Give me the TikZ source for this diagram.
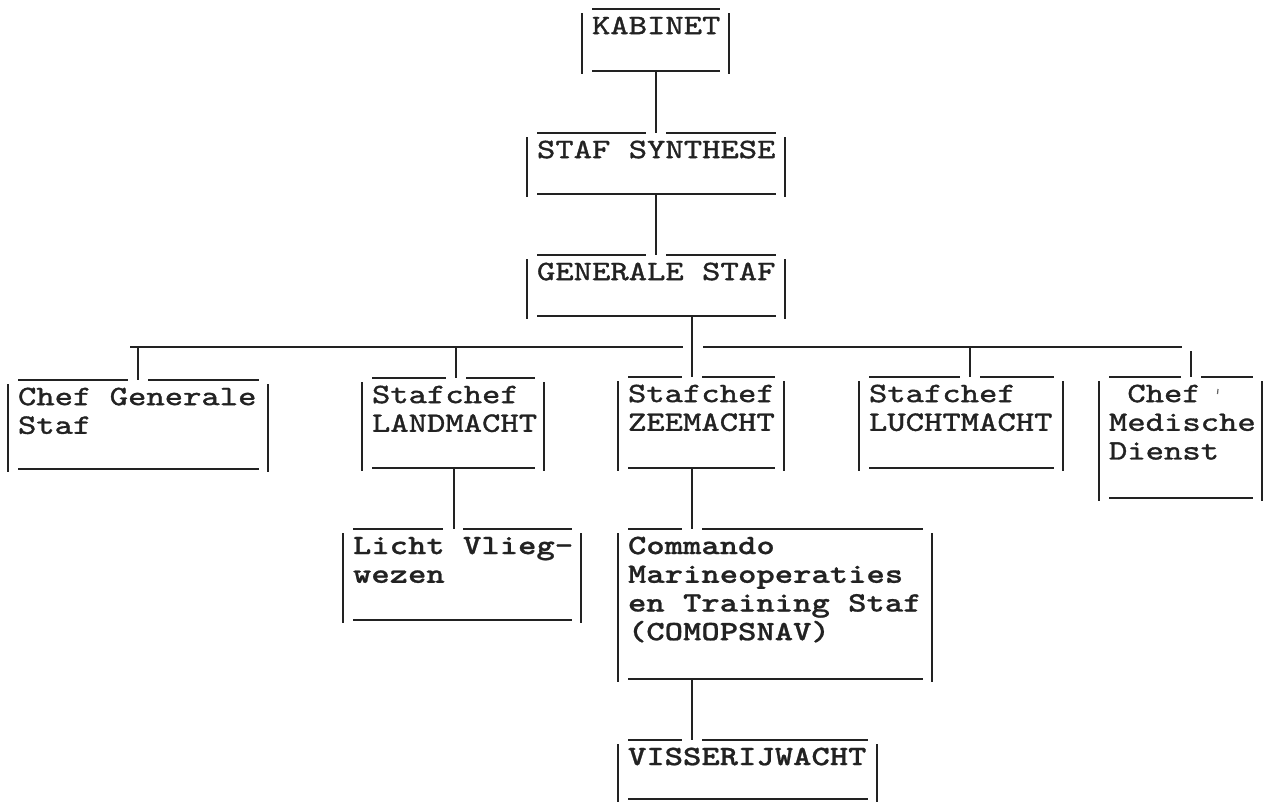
\documentclass[tikz,border=0pt]{standalone}
\usepackage{fontspec}
\usetikzlibrary{fit}
\newfontfamily\tw{lmmono10-regular}[Extension=.otf, BoldFont=lmmonolt10-bold, FakeStretch=1.248, UprightFeatures={FakeBold=1.3}, BoldFeatures={FakeBold=0.8}]
\newcommand{\SP}{\hspace*{18.35pt}}
\definecolor{ink}{HTML}{222222}
\tikzset{
  rule/.style={line width=1.8pt, draw=ink},
  conn/.style={line width=1.8pt, draw=ink},
  boxarea/.style={inner sep=0pt, outer sep=0pt},
  txt/.style={inner sep=0pt, outer sep=0pt, anchor=north west, text width=500pt, align=left, text=ink},
  regfont/.style={font={\tw\fontsize{28}{28.7}\selectfont}},
  boldfont/.style={font={\tw\bfseries\fontsize{28}{28.7}\selectfont}}
}
% #1 name, #2 L, #3 R, #4 T, #5 B, #6 gap x (-1 = none), #7 font style, #8 text
\newcommand{\obox}[8]{%
  \node[boxarea, fit={(#2,#4) (#3,#5)}] (#1) {};
  \node[txt, #7] (#1-t) at (#2+10,#4+5) {\strut #8};
  \ifdim #6pt<0pt
    \draw[rule] (#2+10,#4) -- (#3-9,#4);
  \else
    \draw[rule] (#2+10,#4) -- (#6-10,#4);
    \draw[rule] (#6+10,#4) -- (#3-9,#4);
  \fi
  \draw[rule] (#2+10,#5) -- (#3-9,#5);
  \draw[rule] (#2,#4+4) -- (#2,#5+3);
  \draw[rule] (#3,#4+4) -- (#3,#5+3);
}
\begin{document}
\begin{tikzpicture}[x=1pt,y=-1pt]
\useasboundingbox (0,0) rectangle (1263,801);
\fill[white] (0,0) rectangle (1263,801);

\obox{kab}{582}{729}{9}{71}{-1}{regfont}{KABINET}
\obox{syn}{527}{785}{133}{194}{656}{regfont}{STAF\SP SYNTHESE}
\obox{gen}{527}{785}{255}{316}{656}{regfont}{GENERALE\SP STAF}
\obox{cgs}{8}{268}{380}{469}{138}{regfont}{Chef\SP Generale\\Staf}
\obox{land}{362}{544}{378}{468}{456}{regfont}{Stafchef\\LANDMACHT}
\obox{zee}{618}{784}{377}{468}{692}{regfont}{Stafchef\\ZEEMACHT}
\obox{lucht}{859}{1063}{377}{468}{970}{regfont}{Stafchef\\LUCHTMACHT}
\obox{med}{1099}{1262}{377}{498}{1191}{regfont}{\SP Chef\\Medische\\Dienst}
\obox{licht}{343}{581}{529}{620}{453}{boldfont}{Licht\SP Vlieg-\\wezen}
\obox{com}{618}{932}{529}{679}{692}{boldfont}{Commando\\Marineoperaties\\en\SP Training\SP Staf\\(COMOPSNAV)}
\obox{vis}{618}{877}{740}{799}{692}{boldfont}{VISSERIJWACHT}

% small stray mark after "Chef"
\draw[line width=1.2pt, ink!70] (1218,389) -- (1217.5,394);

% spine and bus coordinates
\coordinate (spine) at (692,0);
\coordinate (kx) at (656,0);
\coordinate (lx) at (454,0);
\coordinate (busL) at (130,347);
\coordinate (busR) at (1182,347);
\coordinate (busgapL) at (683,347);
\coordinate (busgapR) at (703,347);
\coordinate (dcgs) at (138,347);
\coordinate (dland) at (456,347);
\coordinate (dlucht) at (970,347);
\coordinate (dmed) at (1191,351);

\draw[conn] (kab.south -| kx) -- (syn.north -| kx);
\draw[conn] (syn.south -| kx) -- (gen.north -| kx);
\draw[conn] (gen.south -| spine) -- (zee.north -| spine);
\draw[conn] (busL) -- (busgapL);
\draw[conn] (busgapR) -- (busR);
\draw[conn] (dcgs) -- (dcgs |- cgs.north);
\draw[conn] (dland) -- (dland |- land.north);
\draw[conn] (dlucht) -- (dlucht |- lucht.north);
\draw[conn] (dmed) -- (dmed |- med.north);
\draw[conn] (land.south -| lx) -- (licht.north -| lx);
\draw[conn] (zee.south -| spine) -- (com.north -| spine);
\draw[conn] (com.south -| spine) -- (vis.north -| spine);
\end{tikzpicture}
\end{document}
